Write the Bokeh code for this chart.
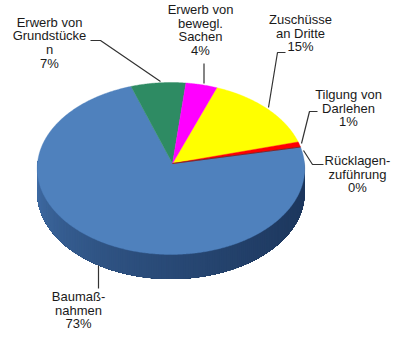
import numpy as np
from bokeh.core.properties import value
from bokeh.embed import file_html
from bokeh.models import Range1d
from bokeh.plotting import figure
from bokeh.resources import INLINE

# Budget shares, clockwise from the top of the pie
categories = ["Erwerb von Grundstücke", "Erwerb von bewegl. Sachen", "Zuschüsse an Dritte",
              "Tilgung von Darlehen", "Rücklagenzuführung", "Baumaßnahmen"]
shares = [7, 4, 15, 1, 0, 73]
slice_colors = ["#2e8b63", "#ff00ff", "#ffff00", "#ff0000", "#5a2a30", "#4f81bd"]
label_lines = [
    ["Erwerb von", "Grundstücke", "n", "7%"],
    ["Erwerb von", "bewegl.", "Sachen", "4%"],
    ["Zuschüsse", "an Dritte", "15%"],
    ["Tilgung von", "Darlehen", "1%"],
    ["Rücklagen-", "zuführung", "0%"],
    ["Baumaß-", "nahmen", "73%"],
]
label_x = [49, 200, 300, 348, 357, 78]
label_y = [21.5, 9, 19, 94, 160, 296]
leaders_x = [[90, 100, 160], [203.5, 203.5], [285, 277, 268], [317, 309, 301], [323, 312, 303], [98, 98]]
leaders_y = [[40, 40, 81], [63, 83], [52, 52, 107], [111, 111, 143], [164, 164, 150], [265, 288]]

# Tilted pie: a circle seen in slight perspective, its hub a little off the rim's centre
HUB_X, HUB_Y = 172.0, 163.0
RIM_X = 170.5
RX, RY, PERSP = 133.5, 85.7, 0.058
DEPTH = 24.5
START_DEG = -18.4
LINE_STEP = 13.7


def rim(theta_deg):
    t = np.radians(theta_deg)
    u, v = np.sin(t), np.cos(t)
    w = 1 + PERSP * v
    return RIM_X + RX * u / w, HUB_Y - RY * v / w


def mix(a, b, f):
    rgb = [round(a[i] + (b[i] - a[i]) * f) for i in range(3)]
    return "#%02x%02x%02x" % tuple(rgb)


p = figure(width=397, height=339, output_backend="svg", toolbar_location=None,
           x_range=Range1d(0, 397), y_range=Range1d(339, 0), min_border=0)
p.axis.visible = False
p.grid.visible = False
p.outline_line_color = None

# Slice angles come straight from the shares
spans = np.array(shares, dtype=float) / sum(shares) * 360
starts = START_DEG + np.concatenate([[0], np.cumsum(spans)[:-1]])

# Side wall of the front slice, shaded from the dark right to the lit left;
# each band runs on under the next one so no seams show between them
DARK_WALL, LIT_WALL = (28, 54, 92), (66, 112, 170)
WALL_FROM, WALL_TO, WALL_STEP = 88.0, 272.0, 1.0
for th in np.arange(WALL_FROM, WALL_TO, WALL_STEP):
    band = np.linspace(th, WALL_TO, 2 + int((WALL_TO - th) / 4))
    bx, by = rim(band)
    col = mix(DARK_WALL, LIT_WALL, ((th - WALL_FROM) / (WALL_TO - WALL_FROM)) ** 1.6)
    p.patch(np.r_[bx, bx[::-1]], np.r_[by, (by + DEPTH)[::-1]], fill_color=col, line_color=None)

# Top faces, largest first so the small slices sit on top of it
for i in sorted(range(len(shares)), key=lambda k: -shares[k]):
    if spans[i] == 0:
        ex, ey = rim(starts[i])
        p.line([HUB_X, ex], [HUB_Y, ey], line_color=slice_colors[i], line_width=0.8)
        continue
    th = np.linspace(starts[i], starts[i] + spans[i], max(4, int(spans[i] * 2)))
    rx, ry = rim(th)
    p.patch(np.r_[HUB_X, rx], np.r_[HUB_Y, ry], fill_color=slice_colors[i], line_color=slice_colors[i], line_width=0.4)

# Leader lines and labels
for lx, ly in zip(leaders_x, leaders_y):
    p.line(lx, ly, line_color="#333333", line_width=1.2)
for lines, x, y in zip(label_lines, label_x, label_y):
    p.text([x] * len(lines), [y + LINE_STEP * k for k in range(len(lines))], text=lines,
           text_align="center", text_baseline="middle", text_color="#1a1a1a",
           text_font=value("Liberation Sans"), text_font_size="13px")

open("out.html", "w").write(file_html(p, INLINE))
